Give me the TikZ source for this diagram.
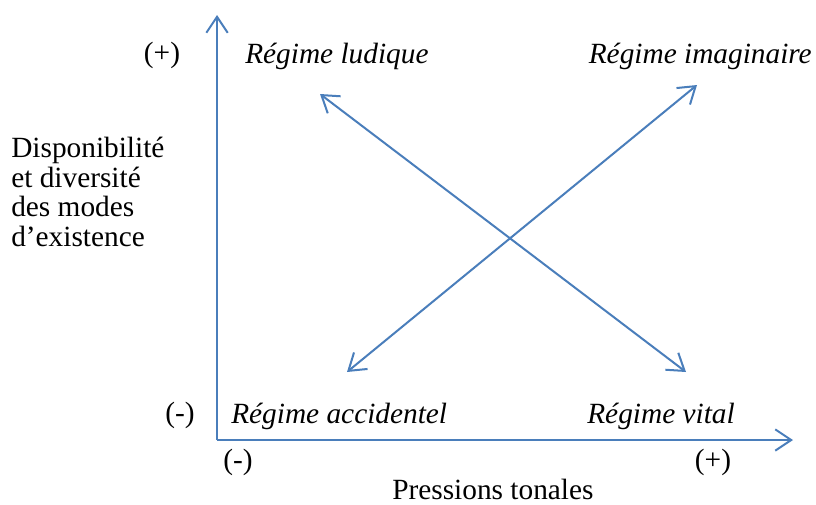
\documentclass[tikz,border=0pt]{standalone}
\usepackage{fontspec}
\setmainfont{Liberation Serif}
\usetikzlibrary{arrows.meta}
\definecolor{axisblue}{HTML}{4A7EBB}
\begin{document}
\begin{tikzpicture}[x=0.75pt,y=-0.75pt,
  conn/.style={draw=axisblue,line width=1.5pt,-{Straight Barb[length=12pt,width=16pt,line width=1.5pt]}},
  dconn/.style={draw=axisblue,line width=1.5pt,{Straight Barb[length=12pt,width=16pt,line width=1.5pt]}-{Straight Barb[length=12pt,width=16pt,line width=1.5pt]}},
  lbl/.style={inner sep=0pt,font=\fontsize{22}{22}\selectfont},
  reg/.style={lbl,font=\fontsize{22}{22}\selectfont\itshape}]
\useasboundingbox (0,0) rectangle (816,504);
\coordinate (O) at (217,440);
\coordinate (Ytip) at (217,15);
\coordinate (Xtip) at (793,440);
\coordinate (A1) at (320,94);
\coordinate (A2) at (686,372);
\coordinate (B1) at (347,372);
\coordinate (B2) at (697,85);
\draw[conn] (O) -- (Ytip);
\draw[conn] (O) -- (Xtip);
\draw[dconn] (A1) -- (A2);
\draw[dconn] (B1) -- (B2);
\node[lbl,anchor=base] (yplus) at (162,62) {(+)};
\node[lbl,anchor=base] (yminus) at (180,422) {(-)};
\node[lbl,anchor=base] (xminus) at (238,469) {(-)};
\node[lbl,anchor=base] (xplus) at (713,469) {(+)};
\node[reg,anchor=base west] (ludique) at (245,63) {Régime ludique};
\node[reg,anchor=base east] (imag) at (812,63) {Régime imaginaire};
\node[reg,anchor=base west] (accid) at (231,423) {Régime accidentel};
\node[reg,anchor=base east] (vital) at (735,423) {Régime vital};
\node[lbl,anchor=base west] (press) at (392,499) {Pressions tonales};
\node[lbl,anchor=north west,align=left,font=\fontsize{22}{22.2}\selectfont] (dispo) at (11,137) {Disponibilité\\et diversité\\des modes\\d’existence};
\end{tikzpicture}
\end{document}
